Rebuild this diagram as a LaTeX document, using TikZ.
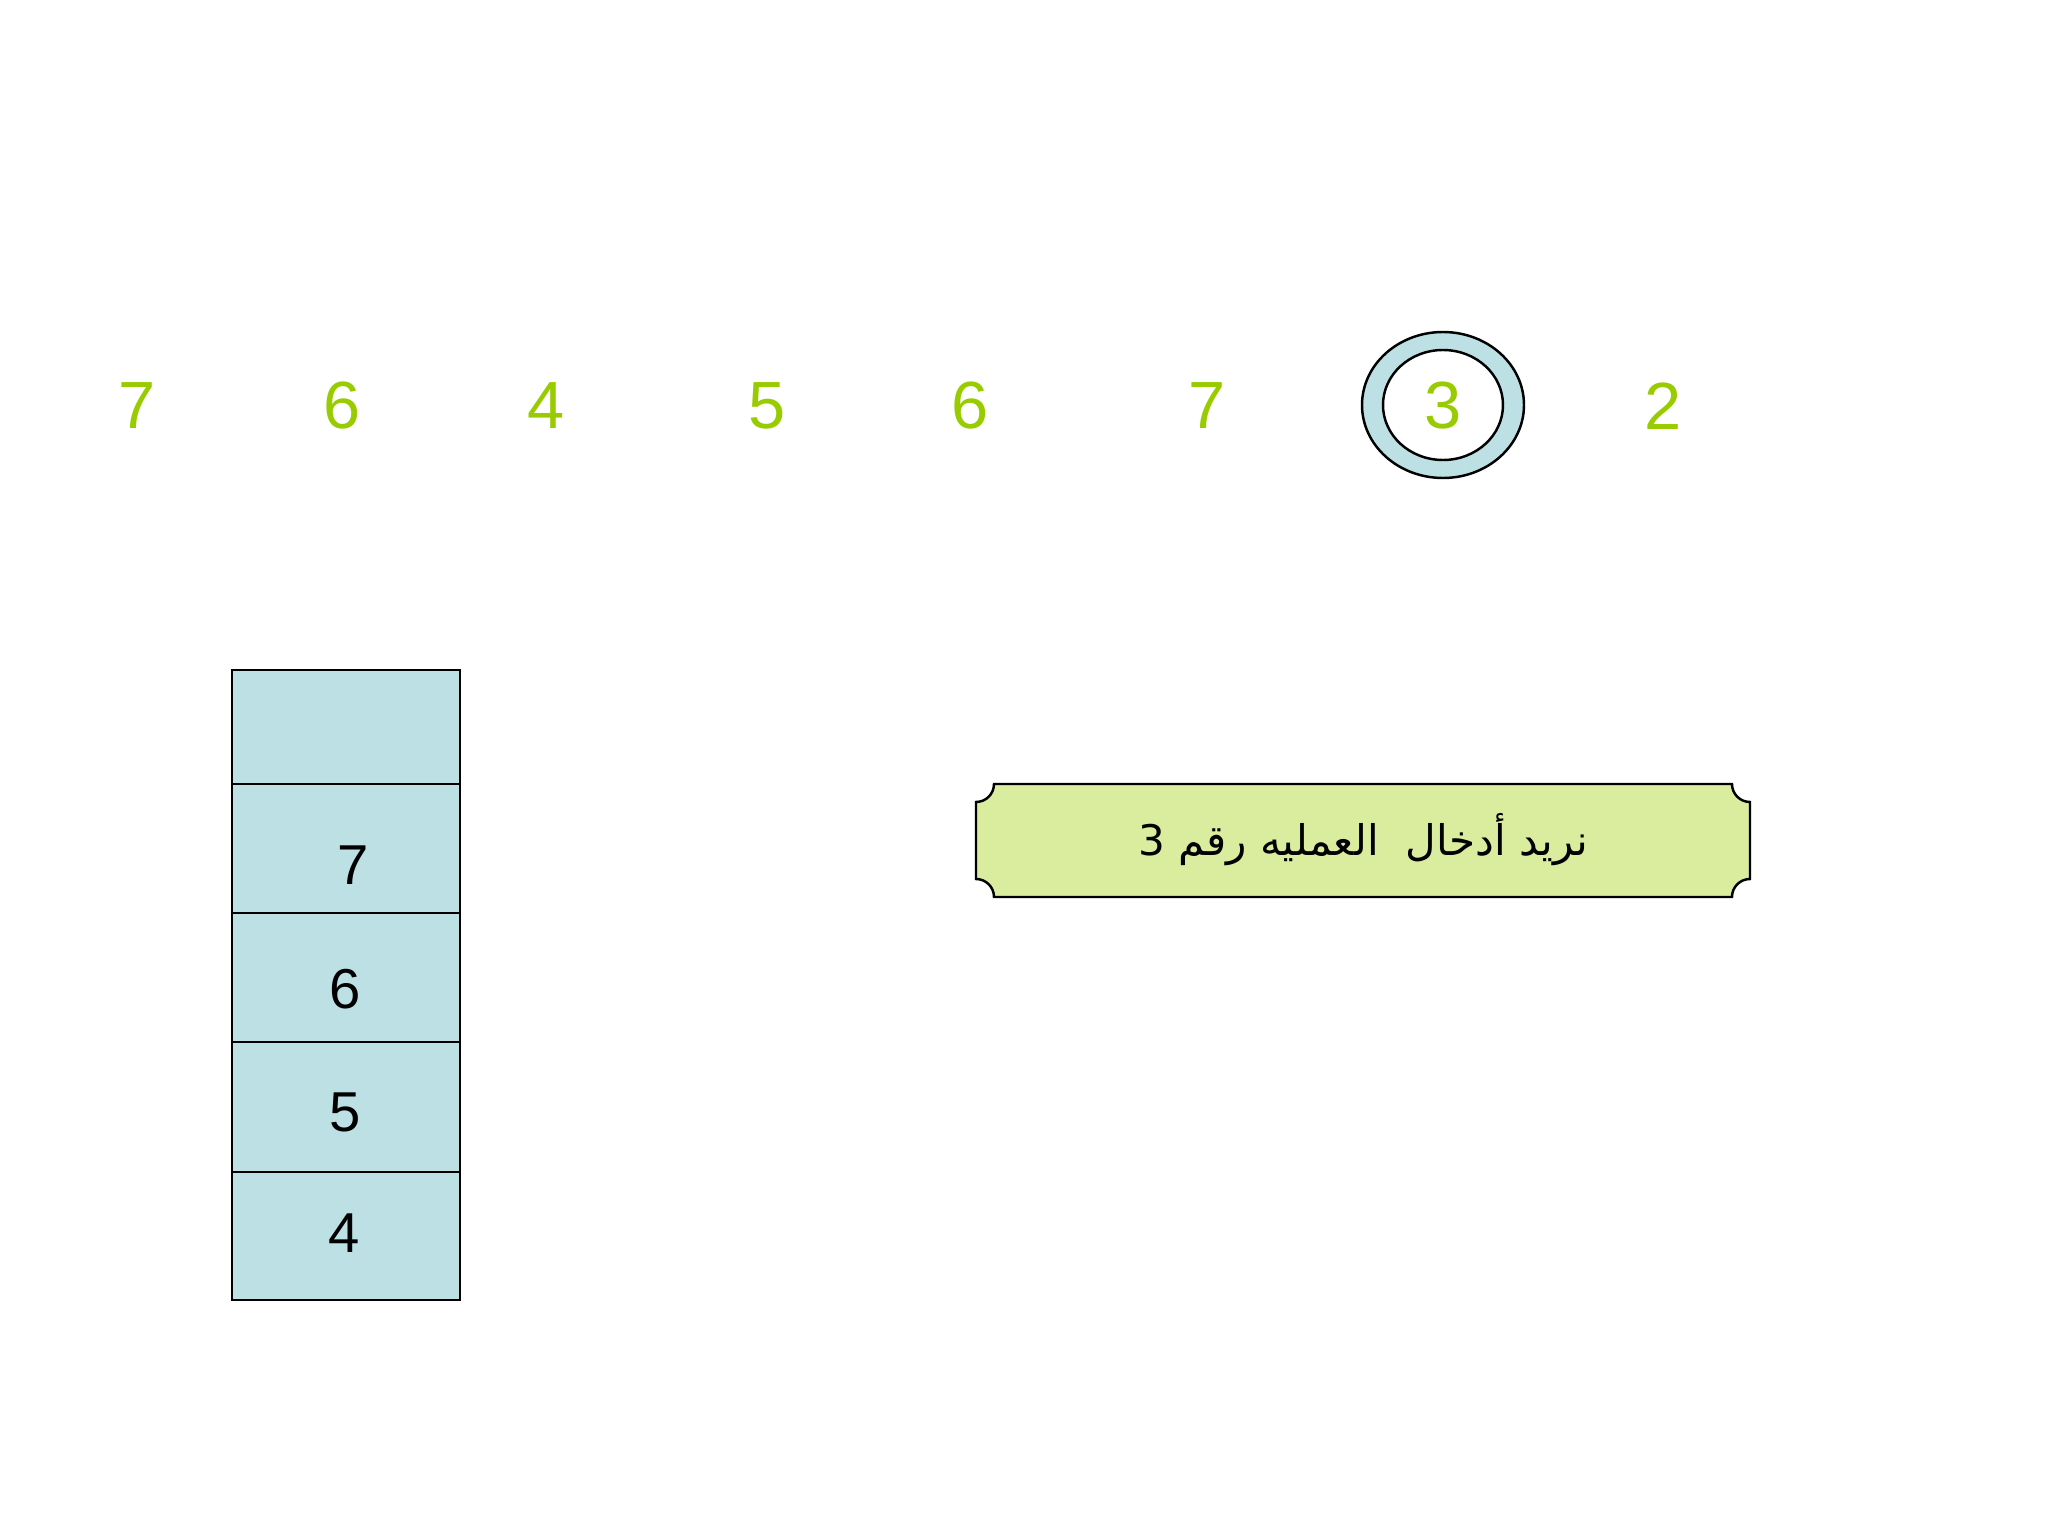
\documentclass[tikz,border=0pt]{standalone}
\usepackage{fontspec}
\setmainfont{Liberation Sans}
\newfontfamily\arabicfont[Script=Arabic]{DejaVu Sans}
\TeXXeTstate=1
\definecolor{numgreen}{HTML}{99CC00}
\definecolor{stackblue}{HTML}{BCE0E3}
\definecolor{plaquegreen}{HTML}{DAEC9D}

\begin{document}
\begin{tikzpicture}[
        num/.style = {text=numgreen, font=\fontsize{19}{22}\selectfont},
        cellnum/.style = {font=\fontsize{16}{19}\selectfont},
        cell/.style = {draw, line width=0.7pt, fill=stackblue}]
    \useasboundingbox (0,0) rectangle (20.48,-15.36);
        % ring round the item being read
        \draw[fill=stackblue, line width=0.7pt] (14.43,-4.05) ellipse (0.81 and 0.73);
        \draw[fill=white, line width=0.7pt] (14.43,-4.05) ellipse (0.60 and 0.55);
        % input row
        \draw (1.37,-4.06)  node[num] (in1) {7};
        \draw (3.42,-4.06)  node[num] (in2) {6};
        \draw (5.46,-4.06)  node[num] (in3) {4};
        \draw (7.67,-4.06)  node[num] (in4) {5};
        \draw (9.70,-4.06)  node[num] (in5) {6};
        \draw (12.07,-4.06) node[num] (in6) {7};
        \draw (14.43,-4.06) node[num] (in7) {3};
        \draw (16.63,-4.06) node[num] (in8) {2};
        % stack
        \draw[cell] (2.32,-6.70)  rectangle (4.60,-7.84);
        \draw[cell] (2.32,-7.84)  rectangle (4.60,-9.13);
        \draw[cell] (2.32,-9.13)  rectangle (4.60,-10.42);
        \draw[cell] (2.32,-10.42) rectangle (4.60,-11.72);
        \draw[cell] (2.32,-11.72) rectangle (4.60,-13.00);
        \draw (3.53,-8.65)  node[cellnum] (s1) {7};
        \draw (3.45,-9.89)  node[cellnum] (s2) {6};
        \draw (3.45,-11.12) node[cellnum] (s3) {5};
        \draw (3.44,-12.33) node[cellnum] (s4) {4};
        % message plaque
        \draw[fill=plaquegreen, line width=0.7pt]
            (9.94,-7.84) -- (17.32,-7.84) arc[start angle=180, end angle=270, radius=0.18]
            -- (17.50,-8.79) arc[start angle=90, end angle=180, radius=0.18]
            -- (9.94,-8.97) arc[start angle=0, end angle=90, radius=0.18]
            -- (9.76,-8.02) arc[start angle=270, end angle=360, radius=0.18] -- cycle;
        \draw (13.63,-8.40) node[font=\fontsize{12}{15}\selectfont] (msg)
            {\arabicfont\beginR نريد أدخال\ \ العمليه رقم 3\endR};
\end{tikzpicture}
\end{document}
